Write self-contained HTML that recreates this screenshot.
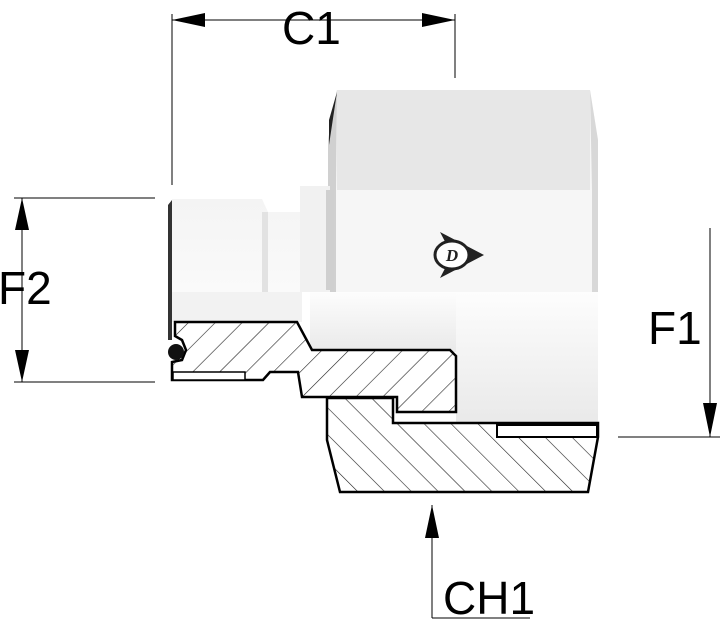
<!DOCTYPE html>
<html><head><style>html,body{margin:0;padding:0;background:#fff;}svg{display:block}</style></head><body>
<svg width="722" height="626" viewBox="0 0 722 626" xmlns="http://www.w3.org/2000/svg">
<defs>
<pattern id="h1" patternUnits="userSpaceOnUse" width="19" height="19" patternTransform="rotate(45)"><line x1="0" y1="0" x2="0" y2="19" stroke="#222" stroke-width="1.2"/></pattern>
<pattern id="h2" patternUnits="userSpaceOnUse" width="19" height="19" patternTransform="rotate(-45)"><line x1="0" y1="0" x2="0" y2="19" stroke="#222" stroke-width="1.2"/></pattern>
<linearGradient id="g1" x1="0" y1="0" x2="0" y2="1"><stop offset="0" stop-color="#f4f4f4"/><stop offset="1" stop-color="#fafafa"/></linearGradient>
<linearGradient id="g2" x1="0" y1="0" x2="0" y2="1"><stop offset="0" stop-color="#fdfdfd"/><stop offset="1" stop-color="#e9e9e9"/></linearGradient>
</defs>
<path d="M337,90 L590,90 L598,140 L598,292 L328,292 L328,140 Z" fill="#f6f6f6"/>
<rect x="337" y="90" width="253" height="100" fill="#e7e7e7"/>
<path d="M337,90 L328,140 L328,292 L336,292 L336,190 Z" fill="#d0d0d0"/>
<path d="M590,90 L598,140 L598,292 L592,292 L592,190 Z" fill="#d8d8d8"/>
<path d="M337,92 L329,120 L329,145 Z" fill="#222"/>
<rect x="456" y="292" width="142" height="133" fill="url(#g2)"/>
<rect x="310" y="292" width="146" height="60" fill="url(#g2)"/>
<rect x="300" y="186" width="30" height="106" fill="#f1f1f1"/>
<rect x="326" y="190" width="8" height="100" fill="#cfcfcf"/>
<path d="M172,199 L262,199 L268,212 L300,212 L300,292 L172,292 Z" fill="url(#g1)"/>
<rect x="262" y="212" width="6" height="80" fill="#e2e2e2"/>
<path d="M168,205 L168,340 L172,340 L172,200 Z" fill="#333"/>
<rect x="172" y="292" width="130" height="30" fill="#f2f2f2"/>
<path d="M175,322 L297,322 L312,350 L450,350 L456,356 L456,412 L397,412 L397,397 L302,397 L298,372 L270,372 L263,380 L172,380 L172,362 L182,360 L186,350 L182,340 L175,336 Z" fill="#fff"/>
<path d="M175,322 L297,322 L312,350 L450,350 L456,356 L456,412 L397,412 L397,397 L302,397 L298,372 L270,372 L263,380 L172,380 L172,362 L182,360 L186,350 L182,340 L175,336 Z" fill="url(#h1)" stroke="#000" stroke-width="2.5"/>
<rect x="173" y="372" width="72" height="8" fill="#fff" stroke="#000" stroke-width="1.5"/>
<circle cx="176" cy="352" r="8" fill="#111"/>
<path d="M327,398 L393,398 L393,423 L598,423 L598,437 L588,492 L340,492 L327,440 Z" fill="#fff"/>
<path d="M327,398 L393,398 L393,423 L598,423 L598,437 L588,492 L340,492 L327,440 Z" fill="url(#h2)" stroke="#000" stroke-width="2.5"/>
<rect x="497" y="425" width="100" height="12" fill="#fff" stroke="#000" stroke-width="2"/>
<g transform="translate(458,255)">
<path d="M-18,-23 L26,0 L-18,23 L-6,0 Z" fill="#222"/>
<ellipse cx="-6" cy="0" rx="17" ry="14" fill="#fff" stroke="#222" stroke-width="3"/>
<text x="-6" y="6" font-family="Liberation Serif,serif" font-weight="bold" font-style="italic" font-size="17" text-anchor="middle" fill="#222">D</text>
</g>
<g stroke="#000" stroke-width="1">
<line x1="172" y1="14" x2="172" y2="185"/><line x1="455" y1="14" x2="455" y2="78"/>
<line x1="172" y1="20" x2="455" y2="20"/>
<line x1="14" y1="198" x2="155" y2="198"/><line x1="14" y1="382" x2="155" y2="382"/>
<line x1="22" y1="198" x2="22" y2="382"/>
<line x1="710" y1="228" x2="710" y2="437"/><line x1="618" y1="437" x2="720" y2="437"/>
<line x1="432" y1="505" x2="432" y2="618"/><line x1="432" y1="618" x2="530" y2="618"/>
</g>
<g fill="#000">
<path d="M172,20 L205,13 L205,27 Z"/><path d="M455,20 L422,13 L422,27 Z"/>
<path d="M22,198 L15,230 L29,230 Z"/><path d="M22,382 L15,350 L29,350 Z"/>
<path d="M710,437 L703,403 L717,403 Z"/>
<path d="M432,505 L425,538 L439,538 Z"/>
</g>
<g font-family="Liberation Sans,sans-serif" font-size="46" fill="#000">
<text x="282" y="44">C1</text>
<text x="-2" y="304">F2</text>
<text x="648" y="344">F1</text>
<text x="443" y="614">CH1</text>
</g>
</svg>
</body></html>
